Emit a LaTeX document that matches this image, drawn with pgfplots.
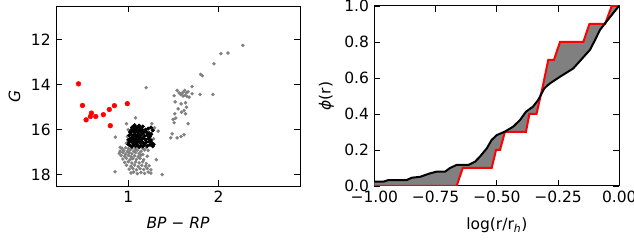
\documentclass[border=0pt]{standalone}
\usepackage{fontspec}
\setmainfont{DejaVu Sans}
\usepackage{pgfplots}
\pgfplotsset{compat=1.18}
\usepgfplotslibrary{fillbetween}
\definecolor{mgray}{HTML}{808080}
\begin{document}
\fontsize{15.5}{18}\selectfont
\begin{tikzpicture}
\pgfplotsset{
  every axis/.append style={
    scale only axis,
    axis line style={line width=1pt},
    tick style={line width=0.8pt, black},
    major tick length=6pt,
    tick align=inside,
    tick label style={font=\fontsize{15.5}{18}\selectfont},
    label style={font=\fontsize{15.5}{18}\selectfont},
    xlabel style={yshift=-4pt},
  }
}
% ---------------- left panel ----------------
\begin{axis}[
  at={(56pt,57pt)}, anchor=south west,
  width=244pt, height=180pt,
  xmin=0.2, xmax=2.9, ymin=10.5, ymax=18.5,
  y dir=reverse,
  xtick={1,2}, xticklabels={1,2},
  ytick={12,14,16,18}, yticklabels={12,14,16,18},
  xlabel={\textit{BP} − \textit{RP}},
  ylabel={\textit{G}},
  ylabel style={xshift=0pt},
]
% gray: other stars
\addplot[only marks, mark=*, mark size=1.55pt, mgray, mark options={draw=mgray, fill=mgray}] coordinates {
(2.268,12.25)(2.103,12.59)(2.025,12.62)(1.948,13.07)(1.80,13.54)(1.82,13.60)
(1.198,14.13)(1.706,14.08)(1.54,14.25)(1.794,14.43)(1.937,14.43)
(1.507,14.49)(1.562,14.36)(1.588,14.40)(1.606,14.33)(1.625,14.25)(1.643,14.36)
(1.662,14.31)(1.673,14.55)(1.628,14.47)(1.65,14.52)(1.706,14.40)(1.606,14.50)(1.58,14.43)
(1.518,14.76)(1.584,14.85)(1.633,14.80)(1.644,15.00)(1.551,15.07)(1.589,15.22)
(1.617,15.14)(1.633,15.29)(1.515,15.29)(1.526,15.48)(1.496,15.54)(1.507,15.69)
(1.662,15.73)(1.485,16.18)(1.47,16.36)(1.54,16.36)(1.584,16.30)(1.617,16.22)
(0.857,16.33)(0.853,17.87)(1.375,17.99)(0.98,15.73)(1.08,15.47)(1.31,17.33)
(1.26,15.73)(1.29,15.91)(1.33,16.06)(1.22,16.92)(0.91,16.78)(1.27,16.05)
(0.98,16.60)(0.99,16.30)(1.00,16.00)(1.28,16.40)
(0.93,16.82)(0.97,16.80)(1.00,16.85)(1.04,16.82)(1.08,16.86)(1.12,16.80)(1.16,16.84)(1.20,16.80)
(0.91,16.95)(0.95,16.92)(0.99,16.97)(1.02,16.90)(1.06,16.95)(1.10,16.91)(1.14,16.96)(1.18,16.90)
(0.90,17.05)(0.94,17.02)(0.97,17.08)(1.01,17.03)(1.04,17.07)(1.08,17.01)(1.12,17.06)(1.16,17.10)
(0.92,17.15)(0.96,17.18)(1.00,17.14)(1.03,17.20)(1.07,17.16)(1.11,17.20)(1.14,17.13)(1.21,17.18)
(0.94,17.30)(0.98,17.27)(1.02,17.33)(1.05,17.28)(1.09,17.32)(1.13,17.27)(1.17,17.33)
(0.96,17.45)(1.00,17.42)(1.04,17.48)(1.08,17.43)(1.12,17.47)(1.16,17.42)(1.20,17.50)
(0.98,17.58)(1.03,17.62)(1.07,17.57)(1.11,17.63)(1.15,17.58)(1.19,17.62)(1.23,17.60)
(1.01,17.75)(1.05,17.72)(1.09,17.78)(1.13,17.73)(1.17,17.77)(1.21,17.72)(1.25,17.78)
(1.03,17.92)(1.06,17.88)(1.10,17.95)(1.14,17.90)(1.18,17.94)(1.22,17.88)(1.25,17.93)
};
% black: cluster members
\addplot[only marks, mark=*, mark size=1.85pt, black, mark options={draw=black, fill=black}] coordinates {
(1.04,15.90)(1.06,15.85)(1.08,15.95)(1.10,15.88)(1.13,15.92)(1.16,15.86)(1.19,16.00)(1.22,15.95)(1.25,15.90)(1.27,16.02)
(1.02,16.10)(1.05,16.05)(1.07,16.12)(1.09,16.06)(1.11,16.14)(1.14,16.08)(1.17,16.12)(1.20,16.10)(1.23,16.15)
(1.01,16.25)(1.03,16.20)(1.05,16.28)(1.07,16.22)(1.09,16.30)(1.11,16.21)(1.13,16.27)(1.15,16.20)(1.18,16.28)(1.21,16.24)(1.24,16.30)
(1.02,16.40)(1.04,16.35)(1.06,16.43)(1.08,16.37)(1.10,16.45)(1.12,16.36)(1.14,16.42)(1.16,16.38)(1.19,16.44)(1.22,16.40)(1.25,16.46)
(1.01,16.55)(1.03,16.50)(1.05,16.58)(1.07,16.52)(1.09,16.60)(1.11,16.50)(1.13,16.57)(1.15,16.53)(1.17,16.60)(1.20,16.55)(1.23,16.52)(1.26,16.58)
(1.02,16.70)(1.04,16.75)(1.06,16.66)(1.08,16.73)(1.10,16.68)(1.12,16.76)(1.14,16.70)(1.16,16.74)(1.18,16.68)(1.21,16.72)(1.24,16.67)(1.27,16.73)
(1.035,16.00)(1.065,16.00)(1.095,16.00)(1.125,16.02)(1.155,16.00)(1.12,15.82)(1.07,15.80)(1.00,16.65)(1.00,16.45)(1.255,16.20)(1.28,16.65)
};
% red: blue stragglers
\addplot[only marks, mark=*, mark size=2.4pt, red, mark options={draw=red, fill=red}] coordinates {
(0.449,13.96)(0.493,14.92)(0.533,15.56)(0.581,15.41)(0.592,15.26)(0.640,15.41)
(0.724,15.33)(0.790,15.10)(0.846,14.93)(0.801,15.82)(0.989,14.84)
};
\end{axis}
% ---------------- right panel ----------------
\begin{axis}[
  at={(374.3pt,57pt)}, anchor=south west,
  width=245pt, height=180pt,
  xmin=-1, xmax=0, ymin=0, ymax=1,
  xtick={-1,-0.75,-0.5,-0.25,0},
  xticklabels={−1.00,−0.75,−0.50,−0.25,0.00},
  ytick={0,0.2,0.4,0.6,0.8,1},
  yticklabels={0.0,0.2,0.4,0.6,0.8,1.0},
  xlabel={log(r/r\textsubscript{\textit{h}})},
  ylabel={\textit{ϕ}(r)},
]
\addplot[name path=R, red, line width=2pt] coordinates {
(-1.0,0)(-0.664,0)(-0.639,0.1)(-0.521,0.1)(-0.503,0.2)(-0.487,0.2)(-0.467,0.3)
(-0.381,0.3)(-0.367,0.4)(-0.338,0.4)(-0.313,0.55)(-0.29,0.7)(-0.267,0.7)(-0.242,0.8)
(-0.147,0.8)(-0.122,0.9)(-0.058,0.9)(-0.031,1.0)(0,1.0)
};
\addplot[name path=B, black, line width=2pt] coordinates {
(-1.0,0.024)(-0.963,0.024)(-0.943,0.033)(-0.868,0.033)(-0.847,0.046)(-0.813,0.051)
(-0.773,0.070)(-0.745,0.080)(-0.711,0.080)(-0.691,0.100)(-0.664,0.117)(-0.616,0.117)
(-0.589,0.135)(-0.569,0.163)(-0.541,0.209)(-0.521,0.256)(-0.500,0.283)(-0.467,0.302)
(-0.433,0.330)(-0.405,0.367)(-0.381,0.413)(-0.353,0.440)(-0.331,0.478)(-0.306,0.543)
(-0.283,0.570)(-0.242,0.607)(-0.188,0.653)(-0.120,0.756)(-0.099,0.811)(-0.079,0.867)
(-0.058,0.904)(-0.031,0.950)(-0.004,0.996)(0,1.0)
};
\addplot[mgray] fill between[of=R and B];
\end{axis}
\pgfresetboundingbox
\path (0,0) rectangle (634pt,243pt);
\end{tikzpicture}
\end{document}
